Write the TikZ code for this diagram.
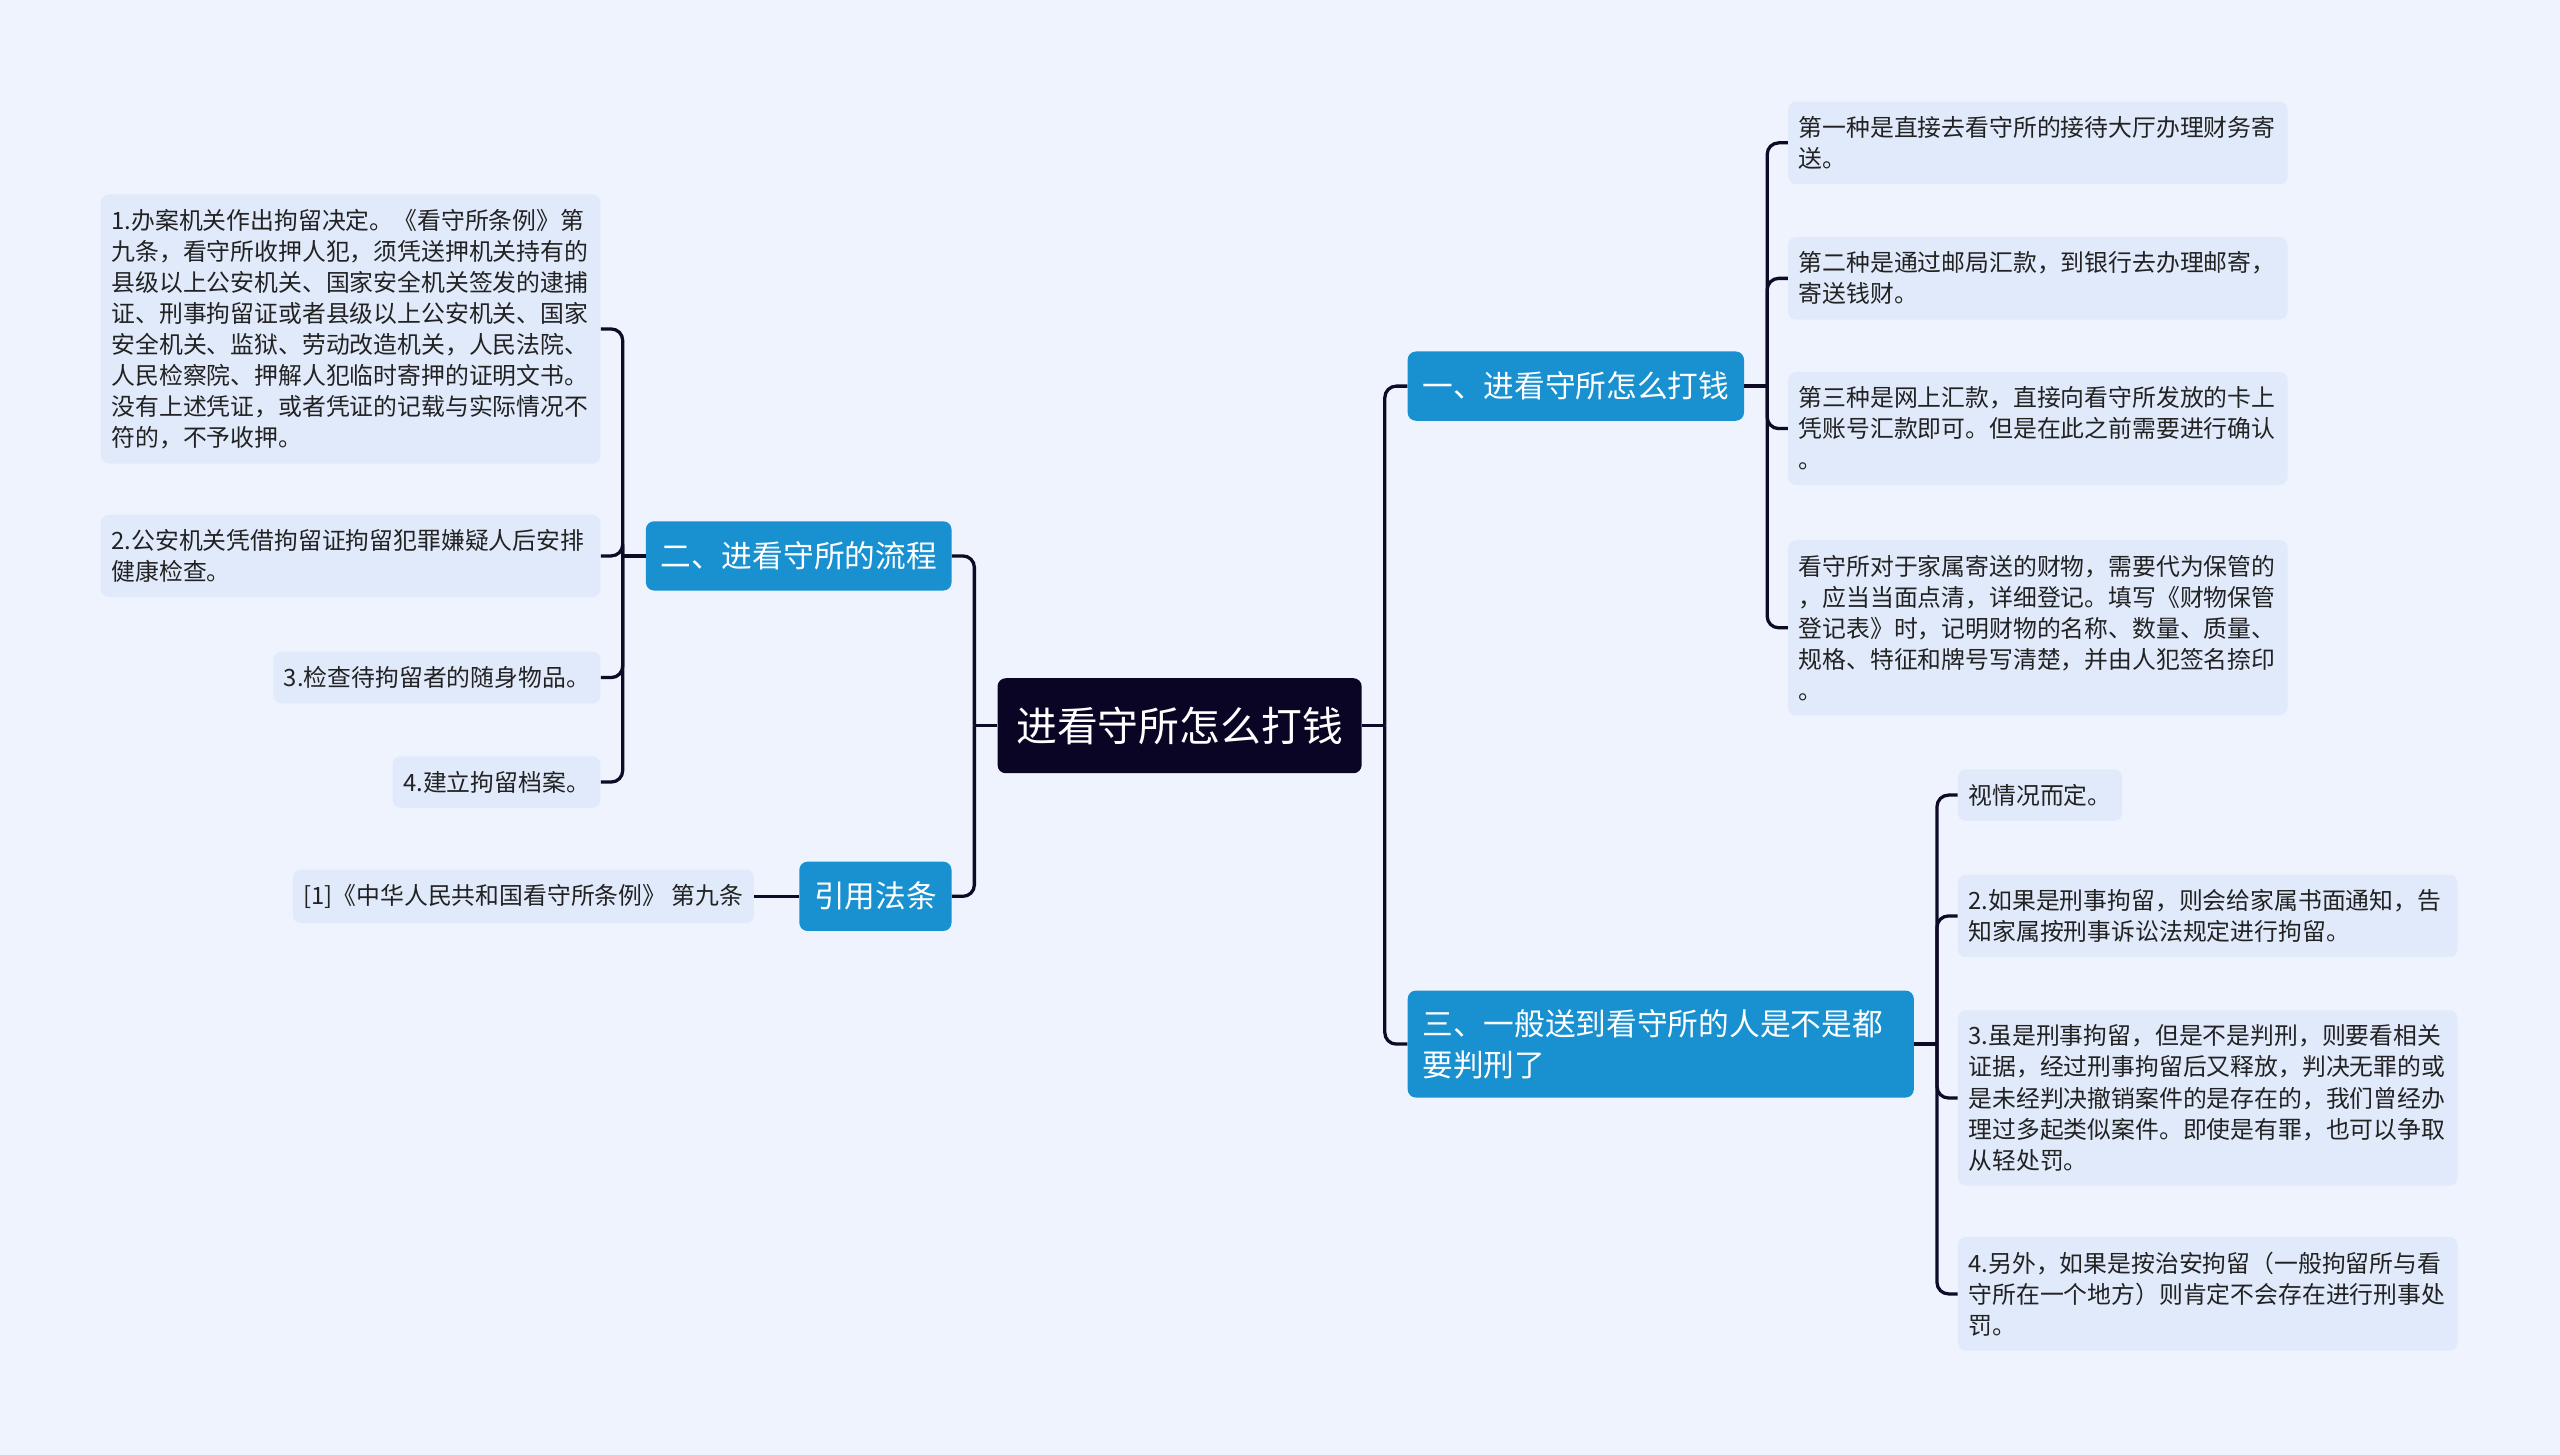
\documentclass[tikz,border=0pt]{standalone}
\usepackage{fontspec}
\usepackage{xcolor}
\usetikzlibrary{positioning}
\setmainfont{Noto Sans CJK SC}
\definecolor{bgpale}{HTML}{EEF3FE}
\definecolor{leaffill}{HTML}{E1EAFB}
\definecolor{branchblue}{HTML}{1990D0}
\definecolor{rootnavy}{HTML}{0A0524}
\definecolor{linknavy}{HTML}{0D0B26}
\definecolor{leaftext}{HTML}{222222}

\begin{document}
\begin{tikzpicture}[x=1pt,y=-1pt,
  link/.style={draw=linknavy,line width=2pt},
  elbow/.style={link,rounded corners=7pt},
  leaf/.style={fill=leaffill,rounded corners=5pt,inner xsep=6.5pt,inner ysep=9pt,text=leaftext,font=\fontsize{14.6}{19}\selectfont,align=left},
  leafwide/.style={leaf,text width=293pt},
  branch/.style={fill=branchblue,rounded corners=5pt,inner xsep=9pt,inner ysep=12.5pt,text=white,font=\fontsize{18.8}{25}\selectfont,align=left},
  rootbox/.style={fill=rootnavy,rounded corners=5pt,inner xsep=11.5pt,inner ysep=17.5pt,text=white,font=\fontsize{25}{30}\selectfont}]
\path[use as bounding box,fill=bgpale] (0,0) rectangle (1568,891);

% centre
\node[rootbox] (root) at (722.5,444.5) {进看守所怎么打钱};

% main branches
\node[branch,anchor=west] (bA) at (862,236.5) {一、进看守所怎么打钱};
\node[branch,anchor=west,text width=292pt,inner ysep=11.5pt] (bC) at (862,639.5) {三、一般送到看守所的人是不是都\\要判刑了};
\node[branch,anchor=east] (bB) at (583,340.5) {二、进看守所的流程};
\node[branch,anchor=east] (bD) at (583,549) {引用法条};

% leaves of bA
\node[leafwide,anchor=west] (lA1) at (1095,87.5) {第一种是直接去看守所的接待大厅办理财务寄\\送。};
\node[leafwide,anchor=west] (lA2) at (1095,170.5) {第二种是通过邮局汇款，到银行去办理邮寄，\\寄送钱财。};
\node[leafwide,anchor=west] (lA3) at (1095,262.5) {第三种是网上汇款，直接向看守所发放的卡上\\凭账号汇款即可。但是在此之前需要进行确认\\。};
\node[leafwide,anchor=west] (lA4) at (1095,384.5) {看守所对于家属寄送的财物，需要代为保管的\\，应当当面点清，详细登记。填写《财物保管\\登记表》时，记明财物的名称、数量、质量、\\规格、特征和牌号写清楚，并由人犯签名捺印\\。};

% leaves of bC
\node[leaf,anchor=west] (lC1) at (1199,487) {视情况而定。};
\node[leafwide,anchor=west] (lC2) at (1199,561) {2.如果是刑事拘留，则会给家属书面通知，告\\知家属按刑事诉讼法规定进行拘留。};
\node[leafwide,anchor=west] (lC3) at (1199,672.5) {3.虽是刑事拘留，但是不是判刑，则要看相关\\证据，经过刑事拘留后又释放，判决无罪的或\\是未经判决撤销案件的是存在的，我们曾经办\\理过多起类似案件。即使是有罪，也可以争取\\从轻处罚。};
\node[leafwide,anchor=west] (lC4) at (1199,792.5) {4.另外，如果是按治安拘留（一般拘留所与看\\守所在一个地方）则肯定不会存在进行刑事处\\罚。};

% leaves of bB
\node[leafwide,anchor=east] (lB1) at (368,201.5) {1.办案机关作出拘留决定。《看守所条例》第\\九条，看守所收押人犯，须凭送押机关持有的\\县级以上公安机关、国家安全机关签发的逮捕\\证、刑事拘留证或者县级以上公安机关、国家\\安全机关、监狱、劳动改造机关，人民法院、\\人民检察院、押解人犯临时寄押的证明文书。\\没有上述凭证，或者凭证的记载与实际情况不\\符的，不予收押。};
\node[leafwide,anchor=east] (lB2) at (368,340.5) {2.公安机关凭借拘留证拘留犯罪嫌疑人后安排\\健康检查。};
\node[leaf,anchor=east] (lB3) at (368,415) {3.检查待拘留者的随身物品。};
\node[leaf,anchor=east] (lB4) at (368,479) {4.建立拘留档案。};

% leaf of bD
\node[leaf,anchor=east] (lD1) at (462,549) {[1]《中华人民共和国看守所条例》 第九条};

% connectors
\draw[link] (root.east) -- ++(14,0) coordinate (rj);
\draw[elbow] (rj) |- (bA.west);
\draw[elbow] (rj) |- (bC.west);
\draw[link] (root.west) -- ++(-14,0) coordinate (lj);
\draw[elbow] (lj) |- (bB.east);
\draw[elbow] (lj) |- (bD.east);

\draw[link] (bA.east) -- ++(14,0) coordinate (aj);
\draw[elbow] (aj) |- (lA1.west);
\draw[elbow] (aj) |- (lA2.west);
\draw[elbow] (aj) |- (lA3.west);
\draw[elbow] (aj) |- (lA4.west);

\draw[link] (bC.east) -- ++(14,0) coordinate (cj);
\draw[elbow] (cj) |- (lC1.west);
\draw[elbow] (cj) |- (lC2.west);
\draw[elbow] (cj) |- (lC3.west);
\draw[elbow] (cj) |- (lC4.west);

\draw[link] (bB.west) -- ++(-14,0) coordinate (bj);
\draw[elbow] (bj) |- (lB1.east);
\draw[elbow] (bj) |- (lB2.east);
\draw[elbow] (bj) |- (lB3.east);
\draw[elbow] (bj) |- (lB4.east);

\draw[link] (bD.west) -- (lD1.east);
\end{tikzpicture}
\end{document}
